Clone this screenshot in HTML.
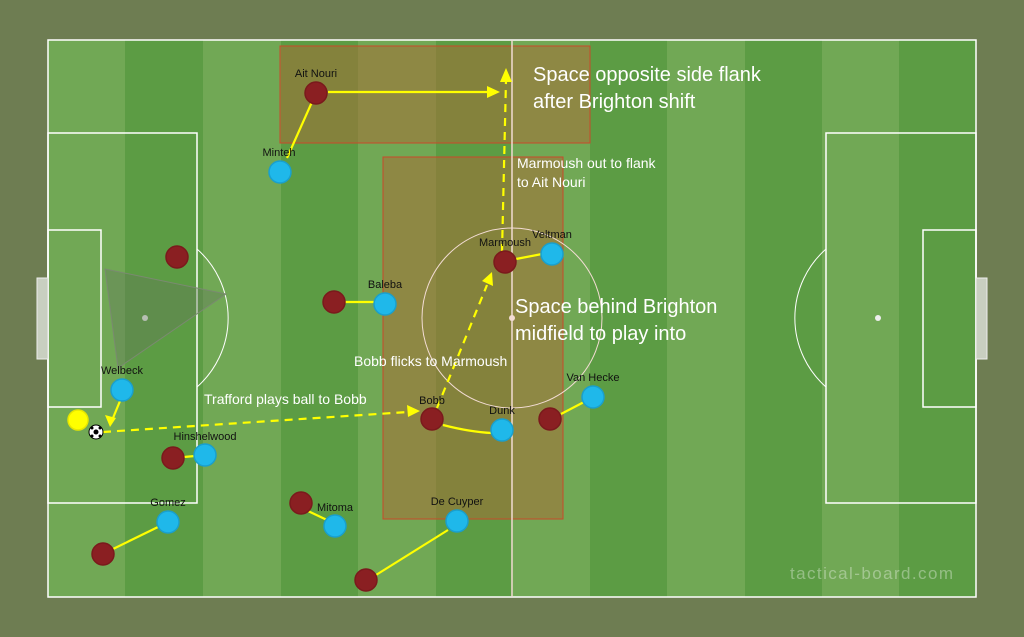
<!DOCTYPE html>
<html><head><meta charset="utf-8"><style>body{margin:0;background:#6e7d52}svg{display:block}</style></head><body>
<svg width="1024" height="637" viewBox="0 0 1024 637" xmlns="http://www.w3.org/2000/svg" font-family="Liberation Sans, sans-serif">
<rect width="1024" height="637" fill="#6e7d52"/>
<g>
<rect x="48" y="40" width="928" height="557" fill="#71a855"/>
<rect x="125" y="40" width="78" height="557" fill="#5c9c44"/>
<rect x="281" y="40" width="77" height="557" fill="#5c9c44"/>
<rect x="436" y="40" width="77" height="557" fill="#5c9c44"/>
<rect x="590" y="40" width="77" height="557" fill="#5c9c44"/>
<rect x="745" y="40" width="77" height="557" fill="#5c9c44"/>
<rect x="899" y="40" width="77" height="557" fill="#5c9c44"/>
</g>
<rect x="280" y="46" width="310" height="97" fill="rgba(165,110,55,0.55)" stroke="#c84a2a" stroke-width="1"/>
<rect x="383" y="157" width="180" height="362" fill="rgba(165,110,55,0.55)" stroke="#c84a2a" stroke-width="1"/>
<g fill="none" stroke="#fff" stroke-width="1.5">
<rect x="48" y="40" width="928" height="557"/>
<line x1="512" y1="40" x2="512" y2="597" stroke="#f3dcd4"/>
<circle cx="512" cy="318" r="90" stroke="#f3dcd4" stroke-width="1"/>
<rect x="48" y="133" width="149" height="370"/>
<rect x="48" y="230" width="53" height="177"/>
<path d="M197 249 A92 92 0 0 1 197 387" stroke-width="1"/>
<rect x="826" y="133" width="150" height="370"/>
<rect x="923" y="230" width="53" height="177"/>
<path d="M826 249 A92 92 0 0 0 826 387" stroke-width="1"/>
</g>
<rect x="37" y="278" width="11" height="81" fill="#c8cfc0" stroke="#eee" stroke-width="1"/>
<rect x="976" y="278" width="11" height="81" fill="#c8cfc0" stroke="#eee" stroke-width="1"/>
<circle cx="145" cy="318" r="3" fill="#eee"/><circle cx="512" cy="318" r="3" fill="#f3dcd4"/><circle cx="878" cy="318" r="3" fill="#eee"/>
<polygon points="105,269 226,294 118,368" fill="rgba(100,120,90,0.4)" stroke="#7a8a70" stroke-width="1"/>
<g stroke="#ffff00" stroke-width="2.2" fill="none">
<line x1="316" y1="93" x2="287" y2="158"/>
<line x1="328" y1="92" x2="490" y2="92"/>
<line x1="502" y1="252" x2="506" y2="80" stroke-dasharray="8,6"/>
<line x1="437" y1="408" x2="487" y2="285" stroke-dasharray="8,6"/>
<line x1="103" y1="432" x2="408" y2="412" stroke-dasharray="8,6"/>
<line x1="120" y1="401" x2="113" y2="418"/>
<line x1="345" y1="302" x2="374" y2="302"/>
<line x1="516" y1="259" x2="542" y2="254"/>
<line x1="561" y1="414" x2="584" y2="402"/>
<path d="M443 425 Q470 432 492 433"/>
<line x1="184" y1="457" x2="195" y2="456"/>
<line x1="113" y1="549" x2="158" y2="527"/>
<line x1="308" y1="511" x2="327" y2="520"/>
<line x1="376" y1="575" x2="448" y2="530"/>
</g>
<g fill="#ffff00">
<polygon points="500,92 487,86 487,98"/>
<polygon points="506,68 500,82 512,82"/>
<polygon points="492,272 482,281 493,286"/>
<polygon points="420,411 407,405 408,417"/>
<polygon points="110,427 105,415 116,418"/>
</g>
<g stroke-width="1.5">
<g fill="#8a1f22" stroke="#7a1a1c">
<circle cx="316" cy="93" r="11"/><circle cx="177" cy="257" r="11"/><circle cx="334" cy="302" r="11"/><circle cx="505" cy="262" r="11"/><circle cx="432" cy="419" r="11"/><circle cx="550" cy="419" r="11"/><circle cx="173" cy="458" r="11"/><circle cx="301" cy="503" r="11"/><circle cx="103" cy="554" r="11"/><circle cx="366" cy="580" r="11"/>
</g>
<g fill="#1fb8ea" stroke="#1a9fcc">
<circle cx="280" cy="172" r="11"/><circle cx="385" cy="304" r="11"/><circle cx="552" cy="254" r="11"/><circle cx="122" cy="390" r="11"/><circle cx="593" cy="397" r="11"/><circle cx="502" cy="430" r="11"/><circle cx="205" cy="455" r="11"/><circle cx="168" cy="522" r="11"/><circle cx="335" cy="526" r="11"/><circle cx="457" cy="521" r="11"/>
</g>
<circle cx="78" cy="420" r="10" fill="#ffff00" stroke="#e6e600"/>
</g>
<circle cx="96" cy="432" r="7" fill="#fff" stroke="#000" stroke-width="1"/>
<circle cx="96" cy="432" r="2.5" fill="#000"/><circle cx="92" cy="428" r="1.5" fill="#000"/><circle cx="100" cy="436" r="1.5" fill="#000"/><circle cx="92" cy="436" r="1.5" fill="#000"/><circle cx="100" cy="428" r="1.5" fill="#000"/>
<g font-size="11" fill="#111" text-anchor="middle">
<text x="316" y="77">Ait Nouri</text><text x="279" y="156">Minteh</text><text x="385" y="288">Baleba</text>
<text x="505" y="246">Marmoush</text><text x="552" y="238">Veltman</text><text x="122" y="374">Welbeck</text>
<text x="593" y="381">Van Hecke</text><text x="432" y="404">Bobb</text><text x="502" y="414">Dunk</text>
<text x="205" y="440">Hinshelwood</text><text x="168" y="506">Gomez</text><text x="335" y="511">Mitoma</text><text x="457" y="505">De Cuyper</text>
</g>
<g fill="#fff">
<text x="533" y="81" font-size="20">Space opposite side flank</text>
<text x="533" y="108" font-size="20">after Brighton shift</text>
<text x="517" y="168" font-size="14">Marmoush out to flank</text>
<text x="517" y="187" font-size="14">to Ait Nouri</text>
<text x="515" y="313" font-size="20">Space behind Brighton</text>
<text x="515" y="340" font-size="20">midfield to play into</text>
<text x="354" y="366" font-size="14">Bobb flicks to Marmoush</text>
<text x="204" y="404" font-size="14">Trafford plays ball to Bobb</text>
</g>
<text x="790" y="579" font-size="17" fill="rgba(255,255,255,0.35)" textLength="163">tactical-board.com</text>
</svg>
</body></html>
